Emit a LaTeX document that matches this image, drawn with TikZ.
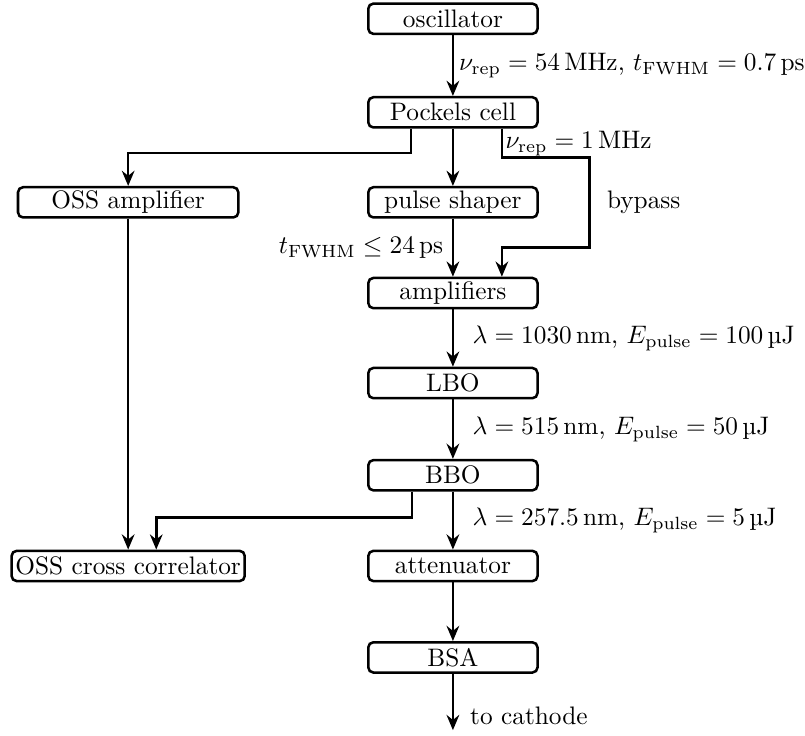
\documentclass[tikz,border=0pt]{standalone}
\usepackage{siunitx}
\usetikzlibrary{arrows.meta}

\begin{document}
\begin{tikzpicture}[x=1cm,y=1cm,
  box/.style={draw, line width=1pt, rounded corners=2pt, minimum width=2.35cm, minimum height=0.42cm, inner xsep=1.5pt, inner ysep=1pt},
  flow/.style={line width=1pt, -{Stealth[length=6pt,width=5pt,inset=2pt]}}]
\useasboundingbox (0,0) rectangle (11.18,-10.21);

\node[box] (osc) at (6.29,-0.26) {oscillator};
\node[box] (pockels) at (6.29,-1.56) {Pockels cell};
\node[box, minimum width=3.06cm] (ossamp) at (1.78,-2.81) {OSS amplifier};
\node[box] (shaper) at (6.29,-2.81) {pulse shaper};
\node[box] (amps) at (6.29,-4.07) {amplifiers};
\node[box] (lbo) at (6.29,-5.32) {LBO};
\node[box] (bbo) at (6.29,-6.60) {BBO};
\node[box] (osscc) at (1.78,-7.86) {OSS cross correlator};
\node[box] (atten) at (6.29,-7.86) {attenuator};
\node[box] (bsa) at (6.29,-9.13) {BSA};
\coordinate (cathode) at (6.29,-10.14);

% bends of the side paths
\coordinate (pl) at (5.71,-2.125);
\coordinate (pr1) at (6.97,-2.19);
\coordinate (pr2) at (8.19,-3.44);
\coordinate (bl1) at (5.72,-7.19);
\coordinate (bl2) at (2.17,-7.19);

\draw[flow] (osc) -- node[right, inner sep=0pt, xshift=2pt] {$\nu_\mathrm{rep} = \SI{54}{\mega\hertz}$, $t_\mathrm{FWHM} = \SI{0.7}{\pico\second}$} (pockels);
\draw[flow] (pockels) -- (shaper);
\draw[flow] (pockels.south -| pl) -- (pl) -| (ossamp.north);
\draw[flow] (pockels.south -| pr1) -- node[right, inner sep=1pt, pos=0.5] (nurep) {$\nu_\mathrm{rep} = \SI{1}{\mega\hertz}$} (pr1)
  -| node[right, xshift=3pt, pos=0.75] (bypass) {bypass} (pr2) -| (amps.north -| pr1);
\draw[flow] (shaper) -- node[left] {$t_\mathrm{FWHM} \leq \SI{24}{\pico\second}$} (amps);
\draw[flow] (amps) -- node[right, xshift=4pt] {$\lambda = \SI{1030}{\nano\metre}$, $E_\mathrm{pulse} = \SI{100}{\micro\joule}$} (lbo);
\draw[flow] (lbo) -- node[right, xshift=4pt] {$\lambda = \SI{515}{\nano\metre}$, $E_\mathrm{pulse} = \SI{50}{\micro\joule}$} (bbo);
\draw[flow] (bbo) -- node[right, xshift=4pt] {$\lambda = \SI{257.5}{\nano\metre}$, $E_\mathrm{pulse} = \SI{5}{\micro\joule}$} (atten);
\draw[flow] (bbo.south -| bl1) |- (bl2) -- (osscc.north -| bl2);
\draw[flow] (ossamp) -- (osscc);
\draw[flow] (atten) -- (bsa);
\draw[flow] (bsa) -- node[right, xshift=3pt, pos=0.74] {to cathode} (cathode);
\end{tikzpicture}
\end{document}
